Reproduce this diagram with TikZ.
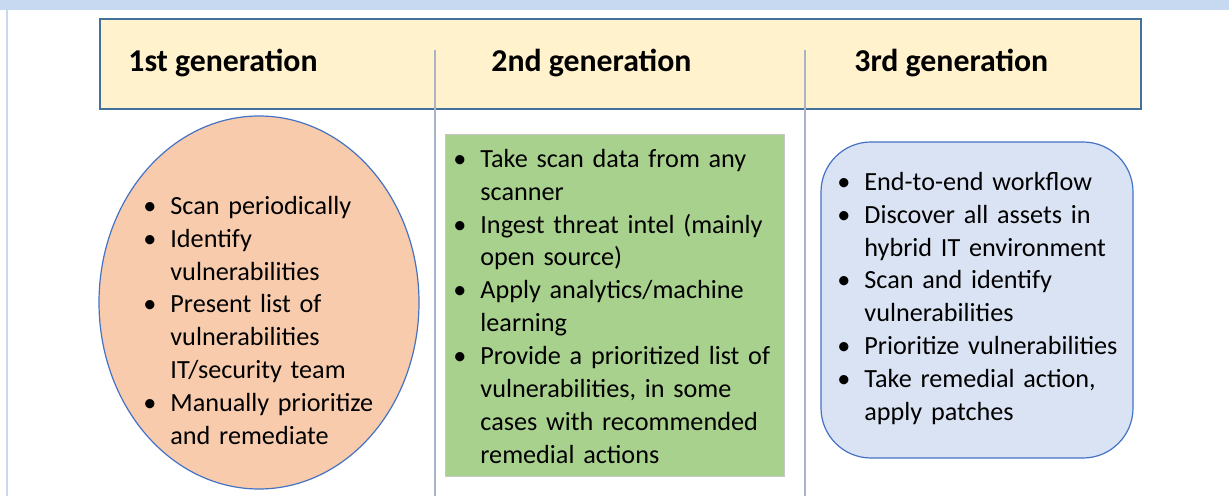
\documentclass[tikz,border=0pt]{standalone}
\usepackage{fontspec}
\setmainfont{Carlito}
\usepackage{tikz}
\usetikzlibrary{positioning,shapes.geometric}

\definecolor{bandblue}{RGB}{198,217,241}
\definecolor{hdrfill}{RGB}{255,242,204}
\definecolor{hdrline}{RGB}{65,113,156}
\definecolor{divline}{RGB}{170,180,200}
\definecolor{ovalfill}{RGB}{248,203,173}
\definecolor{shapeline}{RGB}{68,114,196}
\definecolor{greenfill}{RGB}{169,209,142}
\definecolor{bluefill}{RGB}{218,227,243}

\newlength{\bulind}
\setlength{\bulind}{13.5pt}
\newcommand{\bul}{\par\noindent\hangindent=\bulind\hangafter=1\makebox[\bulind][l]{\textbullet}}
\newcommand{\nl}{\hfil\break}

\begin{document}
\begin{tikzpicture}[
    x=0.5pt, y=-0.5pt,
    hdrbox/.style={draw=hdrline, line width=1pt, fill=hdrfill, inner sep=0pt},
    gentitle/.style={anchor=west, inner sep=0pt, font=\fontsize{15.9}{18}\selectfont\bfseries},
    divider/.style={draw=divline, line width=0.8pt},
    listtext/.style={anchor=north west, inner sep=0pt, text width=175pt, align=left,
        font=\fontsize{13.1}{16.45}\selectfont}
]
    \useasboundingbox (0,0) rectangle (1229,496);
    % Title strip and left rule
    \fill[bandblue] (0,0) rectangle (1229,10);
    \draw[bandblue, line width=1pt] (7,10) -- (7,496);

    % Header bar
    \node[hdrbox, minimum width=520.5pt, minimum height=45pt] (hdr) at (620.5,64) {};
    \node[gentitle] (gen1) at (128,63) {1st generation};
    \node[gentitle] (gen2) at (491,63) {2nd generation};
    \node[gentitle] (gen3) at (854,63) {3rd generation};

    % Column rules
    \draw[divider] (435,50) -- (435,496);
    \draw[divider] (805,50) -- (805,496);

    % 1st generation
    \node[ellipse, draw=shapeline, line width=0.6pt, fill=ovalfill, inner sep=0pt,
        minimum width=160pt, minimum height=186.5pt] (oval1) at (259,302.5) {};
    \node[listtext] (list1) at (143,181) {%
        \bul Scan periodically
        \bul Identify\nl vulnerabilities
        \bul Present list of\nl vulnerabilities\nl IT/security team
        \bul Manually prioritize\nl and remediate\par};

    % 2nd generation
    \node[draw=black!22, line width=0.5pt, fill=greenfill, inner sep=0pt,
        minimum width=169.5pt, minimum height=170.5pt] (box2) at (614.5,305.5) {};
    \node[listtext] (list2) at (453,134) {%
        \bul Take scan data from any\nl scanner
        \bul Ingest threat intel (mainly\nl open source)
        \bul Apply analytics/machine\nl learning
        \bul Provide a prioritized list of\nl vulnerabilities, in some\nl cases with recommended\nl remedial actions\par};

    % 3rd generation
    \node[draw=shapeline, line width=0.6pt, fill=bluefill, rounded corners=25pt, inner sep=0pt,
        minimum width=156pt, minimum height=158pt] (box3) at (977,300) {};
    \node[listtext] (list3) at (837,157) {%
        \bul End-to-end workflow
        \bul Discover all assets in\nl hybrid IT environment
        \bul Scan and identify\nl vulnerabilities
        \bul Prioritize vulnerabilities
        \bul Take remedial action,\nl apply patches\par};
\end{tikzpicture}
\end{document}
